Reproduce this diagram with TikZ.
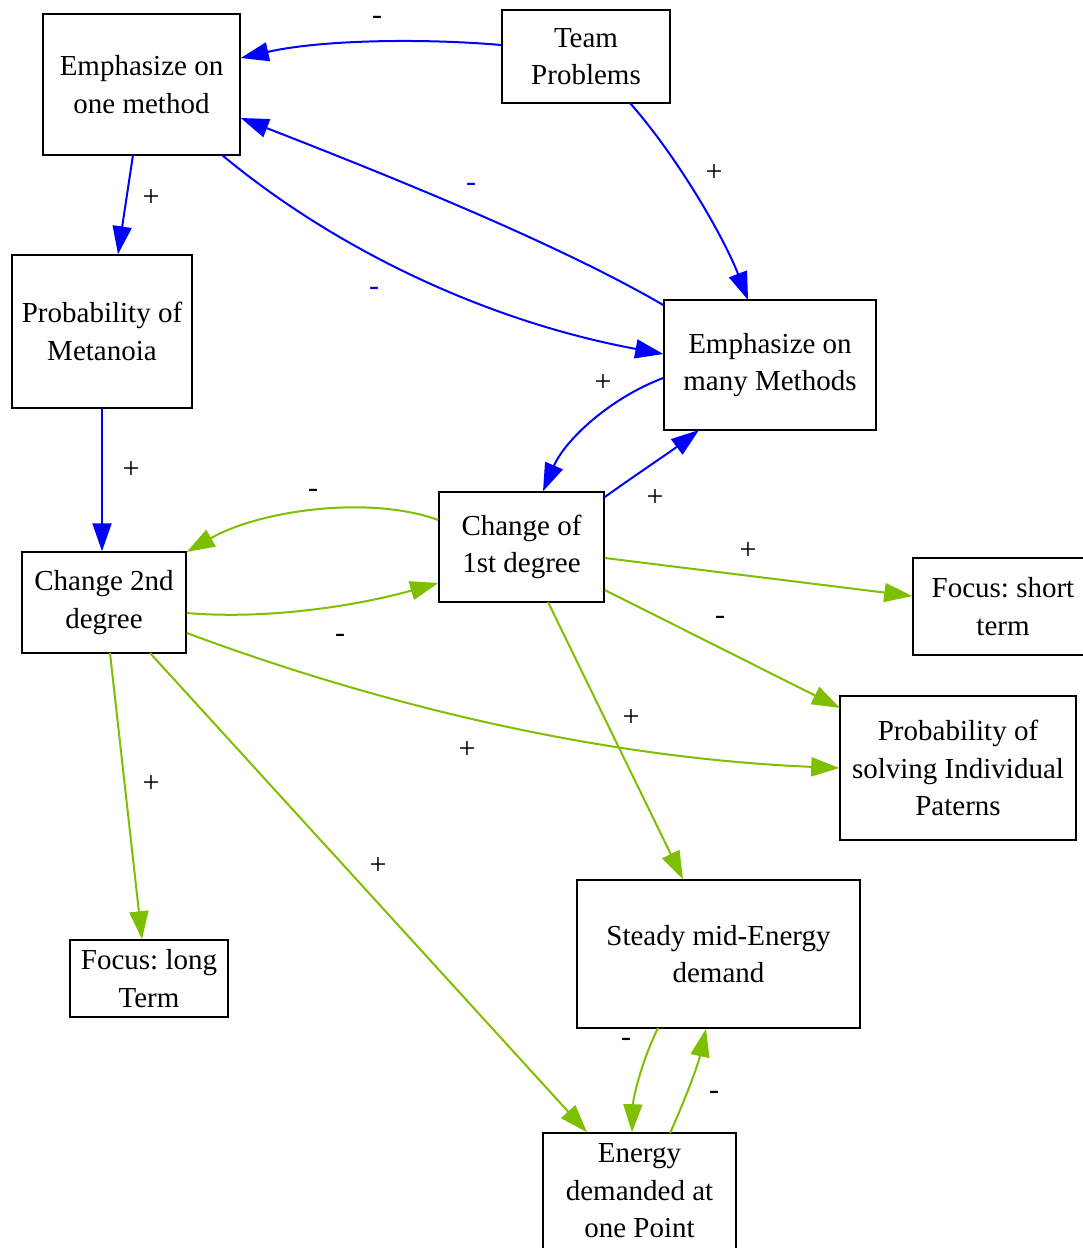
\documentclass[tikz,border=0pt]{standalone}
\usepackage{fontspec}
\setmainfont{Liberation Serif}
\usetikzlibrary{arrows.meta}
\definecolor{gv}{RGB}{126,191,0}
\definecolor{bl}{RGB}{0,0,255}
\frenchspacing
\begin{document}
\begin{tikzpicture}[x=1pt,y=-1pt,
  box/.style={draw=black,line width=1.5pt,inner sep=0pt,align=center,
    font=\fontsize{29}{37.5}\selectfont\frenchspacing},
  lbl/.style={font=\fontsize{30}{30}\selectfont,inner sep=0pt},
  bedge/.style={draw=bl,line width=2pt,-{Triangle[length=28pt,width=19pt,fill=bl]}},
  gedge/.style={draw=gv,line width=2pt,-{Triangle[length=28pt,width=19pt,fill=gv]}}]
\useasboundingbox (0,0) rectangle (1083,1248);
\node[box,minimum width=197pt,minimum height=141pt] (e1) at (141.5,84.5) {Emphasize on\\one method};
\node[box,minimum width=168pt,minimum height=93pt] (team) at (586,56.5) {Team\\Problems};
\node[box,minimum width=180pt,minimum height=153pt] (meta) at (102,331.5) {Probability of\\Metanoia};
\node[box,minimum width=212pt,minimum height=130pt] (many) at (770,365) {Emphasize on\\many Methods};
\node[box,minimum width=165pt,minimum height=110pt] (c1) at (521.5,547) {Change of\\1st degree};
\node[box,minimum width=164pt,minimum height=101pt] (c2) at (104,602.5) {Change 2nd\\degree};
\node[box,minimum width=180pt,minimum height=97pt] (fs) at (1003,606.5) {Focus: short\\term};
\node[box,minimum width=236pt,minimum height=144pt] (ps) at (958,768) {Probability of\\solving Individual\\Paterns};
\node[box,minimum width=283pt,minimum height=148pt] (st) at (718.5,954) {Steady mid-Energy\\demand};
\node[box,minimum width=158pt,minimum height=77pt] (fl) at (149,978.5) {Focus: long\\Term};
\node[box,minimum width=193pt,minimum height=116pt] (en) at (639.5,1191) {Energy\\demanded at\\one Point};

% blue edges
\draw[bedge] (team.west |- 0,45) .. controls (420,38) and (320,40) .. (e1.east |- 0,58);
\draw[bedge] (many.west |- 0,305) .. controls (560,245) and (400,180) .. (e1.east |- 0,118);
\draw[bedge] (222,155) .. controls (330,245) and (480,320) .. (many.west |- 0,354);
\draw[bedge] (630,103) .. controls (680,160) and (725,240) .. (748,300);
\draw[bedge] (133,155) -- (meta.north -| 118,0);
\draw[bedge] (meta.south) -- (c2.north -| 102,0);
\draw[bedge] (many.west |- 0,378) .. controls (610,398) and (565,440) .. (c1.north -| 543,0);
\draw[bedge] (c1.east |- 0,497) .. controls (640,472) and (670,452) .. (699,430);
% green edges
\draw[gedge] (c1.west |- 0,520) .. controls (370,495) and (260,510) .. (c2.east |- 0,552);
\draw[gedge] (c2.east |- 0,613) .. controls (270,620) and (360,605) .. (c1.west |- 0,583);
\draw[gedge] (c1.east |- 0,558) -- (fs.west |- 0,596);
\draw[gedge] (c1.east |- 0,590) -- (840,708);
\draw[gedge] (c2.east |- 0,633) .. controls (380,705) and (600,758) .. (ps.west |- 0,768);
\draw[gedge] (548,602) -- (st.north -| 683,0);
\draw[gedge] (110,653) -- (fl.north -| 142,0);
\draw[gedge] (150,653) -- (en.north -| 587,0);
\draw[gedge] (658,1028) .. controls (640,1065) and (633,1100) .. (en.north -| 632,0);
\draw[gedge] (670,1133) .. controls (685,1100) and (698,1065) .. (st.south -| 706,0);

% labels
\node[lbl] (l1) at (377,20) {-};
\node[lbl,text=bl] (l2) at (471,187) {-};
\node[lbl,text=bl] (l3) at (374,291) {-};
\node[lbl] (l4) at (714,173) {+};
\node[lbl] (l5) at (151,198) {+};
\node[lbl] (l6) at (131,470) {+};
\node[lbl] (l7) at (603,383) {+};
\node[lbl] (l8) at (655,498) {+};
\node[lbl] (l9) at (313,493) {-};
\node[lbl] (l10) at (340,638) {-};
\node[lbl] (l11) at (748,551) {+};
\node[lbl] (l12) at (720,620) {-};
\node[lbl] (l13) at (467,750) {+};
\node[lbl] (l14) at (631,718) {+};
\node[lbl] (l15) at (151,784) {+};
\node[lbl] (l16) at (378,866) {+};
\node[lbl] (l17) at (626,1042) {-};
\node[lbl] (l18) at (714,1095) {-};
\end{tikzpicture}
\end{document}
